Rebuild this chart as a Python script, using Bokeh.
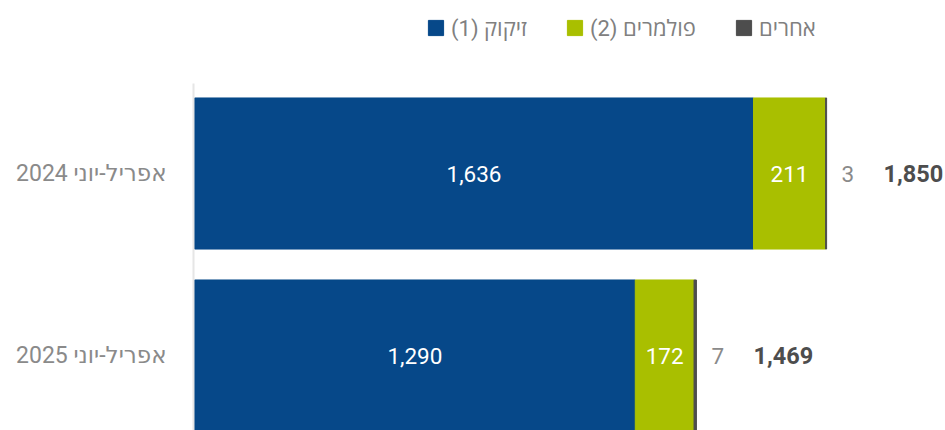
from bokeh.plotting import figure
from bokeh.models import ColumnDataSource, Range1d, FixedTicker, Legend, LegendItem
from bokeh.embed import file_html
from bokeh.resources import INLINE
from bokeh.core.properties import value

categories = ["אפריל-יוני 2024", "אפריל-יוני 2025"]
refining = [1636, 1290]
polymers = [211, 172]
others = [3, 7]
totals = [1850, 1469]
series_names = ["זיקוק (1)\u200F", "פולמרים (2)\u200F", "אחרים"]
colors = ["#064889", "#a9bf00", "#4d4d4d"]

n = len(categories)
ys = [n - 1 - i for i in range(n)]
src = ColumnDataSource(dict(
    y=ys,
    refining=refining,
    polymers=polymers,
    others=others,
    total=totals,
    ref_mid=[r / 2 for r in refining],
    pol_mid=[r + q / 2 for r, q in zip(refining, polymers)],
    ref_lbl=[f"{v:,}" for v in refining],
    pol_lbl=[f"{v:,}" for v in polymers],
    oth_lbl=[f"{v:,}" for v in others],
    tot_lbl=[f"{v:,}" for v in totals],
))

FONT = "Roboto"
HFONT = "Roboto, 'Open Sans'"
TFONT = "Roboto, 'DejaVu Sans'"

p = figure(width=945, height=430, output_backend="svg", toolbar_location=None,
           x_range=Range1d(-3, 2198), y_range=Range1d(-0.412, 1.9506),
           x_axis_location=None,
           min_border_left=193, min_border_right=0, min_border_top=0, min_border_bottom=0)
p.outline_line_color = None
p.xgrid.visible = False
p.ygrid.visible = False

ax = p.yaxis[0]
ax.ticker = FixedTicker(ticks=ys)
ax.bounds = (-0.412, 1.4945)
ax.major_label_overrides = {y: c for y, c in zip(ys, categories)}
ax.axis_line_color = "#e6e6e6"
ax.axis_line_width = 2
ax.major_tick_line_color = None
ax.minor_tick_line_color = None
ax.major_label_standoff = 21
ax.major_label_text_font = TFONT
ax.major_label_text_font_size = "23px"
ax.major_label_text_color = "#8a8a8a"

rs = p.hbar_stack(["refining", "polymers", "others"], y="y", height=0.83,
                  color=colors, source=src)

p.text(x="ref_mid", y="y", text="ref_lbl", source=src, text_align="center",
       text_baseline="middle", text_color="white", text_font=value(FONT),
       text_font_size="22.5px")
p.text(x="pol_mid", y="y", text="pol_lbl", source=src, text_align="center",
       text_baseline="middle", text_color="white", text_font=value(FONT),
       text_font_size="22.5px")
p.text(x="total", y="y", text="oth_lbl", source=src, text_align="left",
       text_baseline="middle", text_color="#8a8a8a", text_font=value(FONT),
       text_font_size="22.5px", x_offset=15)
p.text(x="total", y="y", text="tot_lbl", source=src, text_align="left",
       text_baseline="middle", text_color="#4d4d4d", text_font=value(FONT),
       text_font_size="23.5px", text_font_style="bold", x_offset=57)

legend = Legend(items=[LegendItem(label=nm, renderers=[r]) for nm, r in zip(series_names, rs)],
                orientation="horizontal", location=(233, 388),
                border_line_alpha=0, background_fill_alpha=0,
                glyph_width=19, glyph_height=19, label_standoff=6, spacing=38,
                padding=0, margin=0,
                label_text_font=HFONT, label_text_font_size="22px",
                label_text_color="#808080")
p.add_layout(legend)

open("out.html", "w").write(file_html(p, INLINE))
